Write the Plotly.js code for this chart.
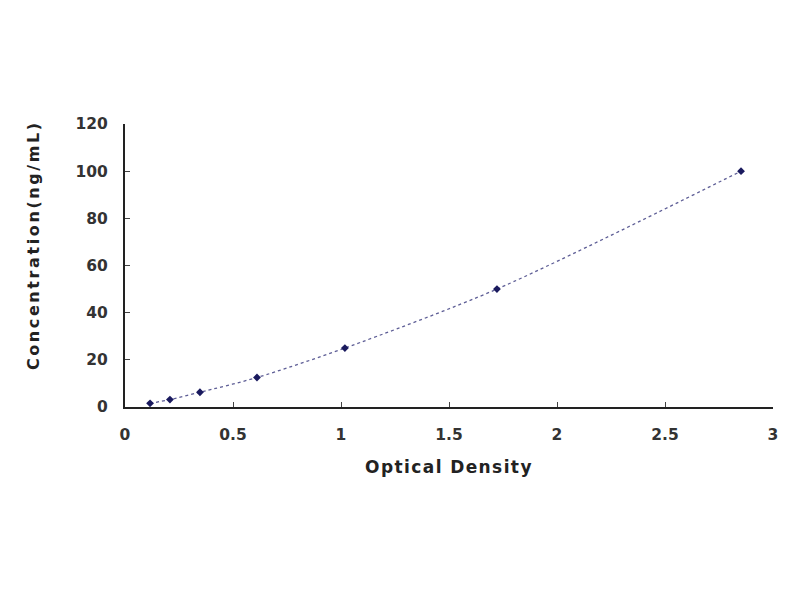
<!DOCTYPE html>
<html>
<head>
<meta charset="utf-8">
<script src="https://cdn.plot.ly/plotly-3.0.1.min.js"></script>
<style>
html,body{margin:0;padding:0;background:#fff;}
#chart{width:800px;height:600px;}
text.xtitle{letter-spacing:1.4px;}
g.annotation text{letter-spacing:2.6px;}
</style>
</head>
<body>
<div id="chart"></div>
<script>
const opticalDensity = [0.116, 0.208, 0.347, 0.611, 1.018, 1.722, 2.852];
const concentration = [1.56, 3.13, 6.25, 12.5, 25, 50, 100];
const xTicks = [0, 0.5, 1, 1.5, 2, 2.5, 3];
const yTicks = [0, 20, 40, 60, 80, 100, 120];

const traces = [
  {
    x: opticalDensity, y: concentration, type: 'scatter', mode: 'lines',
    line: {shape: 'spline', smoothing: 0.8, color: '#5e5e96', width: 1.3, dash: 'dot'},
    hoverinfo: 'skip', showlegend: false
  },
  {
    x: opticalDensity, y: concentration, type: 'scatter', mode: 'markers',
    marker: {symbol: 'diamond', size: 6, color: '#1a1a5e'},
    showlegend: false
  }
];

const fam = 'DejaVu Sans, Verdana, sans-serif';
const tickFont = {family: fam, size: 15.5, color: '#333', weight: 'bold'};
const layout = {
  width: 800, height: 600,
  margin: {l: 125, r: 27, t: 124, b: 193},
  paper_bgcolor: '#fff', plot_bgcolor: '#fff',
  showlegend: false,
  xaxis: {
    range: [0, 3], tickvals: xTicks, ticktext: xTicks.map(String),
    showgrid: false, zeroline: false, showline: true, linecolor: '#222', linewidth: 2,
    ticks: 'inside', ticklen: 5, tickcolor: '#444', tickwidth: 1,
    ticklabelstandoff: 12,
    tickfont: tickFont,
    title: {text: '<b>Optical Density</b>', font: {family: fam, size: 17, color: '#222'}, standoff: 19}
  },
  yaxis: {
    range: [0, 120], tickvals: yTicks, ticktext: yTicks.map(String),
    showgrid: false, zeroline: false, showline: true, linecolor: '#222', linewidth: 2,
    ticks: 'inside', ticklen: 5, tickcolor: '#444', tickwidth: 1,
    ticklabelstandoff: 12,
    tickfont: tickFont
  },
  annotations: [{
    text: '<b>Concentration(ng/mL)</b>', textangle: -90, showarrow: false,
    xref: 'paper', yref: 'paper', x: -0.142, y: 0.572, xanchor: 'center', yanchor: 'middle',
    font: {family: fam, size: 16, color: '#222'}
  }]
};
Plotly.newPlot('chart', traces, layout, {displayModeBar: false, staticPlot: true});
</script>
</body>
</html>
